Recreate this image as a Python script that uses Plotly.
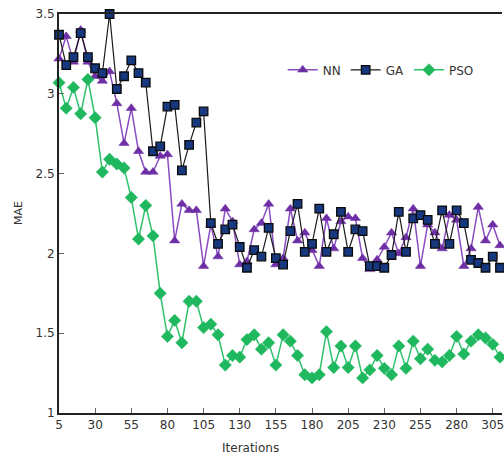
import plotly.graph_objects as go

iterations = list(range(5, 315, 5))

nn = [3.22, 3.36, 3.20, 3.40, 3.20, 3.11, 3.08, 3.14, 2.94, 2.69,
      2.91, 2.64, 2.51, 2.51, 2.61, 2.62, 2.08, 2.31, 2.27, 2.27,
      1.92, 2.18, 1.98, 2.28, 2.20, 1.93, 1.95, 2.15, 2.19, 2.31,
      1.93, 1.97, 2.28, 2.08, 2.13, 2.02, 1.92, 2.22, 2.03, 2.20,
      2.23, 2.22, 1.97, 1.90, 1.96, 2.04, 2.13, 2.00, 2.10, 2.28,
      1.92, 2.18, 2.13, 2.03, 2.24, 2.21, 1.92, 2.03, 2.29, 2.08,
      2.18, 2.05]

ga = [3.37, 3.18, 3.23, 3.38, 3.23, 3.16, 3.13, 3.50, 3.03, 3.11,
      3.21, 3.13, 3.07, 2.64, 2.67, 2.92, 2.93, 2.52, 2.68, 2.82,
      2.89, 2.19, 2.06, 2.15, 2.18, 2.04, 1.91, 2.02, 1.98, 2.16,
      1.97, 1.93, 2.14, 2.31, 2.01, 2.06, 2.28, 2.01, 2.12, 2.26,
      2.01, 2.15, 2.14, 1.92, 1.92, 1.91, 1.99, 2.26, 2.01, 2.22,
      2.24, 2.21, 2.06, 2.27, 2.06, 2.27, 2.19, 1.96, 1.94, 1.91,
      1.98, 1.91]

pso = [3.07, 2.91, 3.04, 2.875, 3.09, 2.85, 2.51, 2.59, 2.56, 2.535,
       2.35, 2.09, 2.30, 2.11, 1.75, 1.48, 1.58, 1.44, 1.70, 1.70,
       1.535, 1.556, 1.49, 1.30, 1.36, 1.35, 1.46, 1.49, 1.40, 1.44,
       1.30, 1.49, 1.45, 1.36, 1.24, 1.22, 1.24, 1.51, 1.285, 1.42,
       1.285, 1.42, 1.22, 1.27, 1.36, 1.28, 1.24, 1.42, 1.28, 1.45,
       1.34, 1.40, 1.33, 1.32, 1.36, 1.48, 1.37, 1.45, 1.49, 1.47,
       1.43, 1.35]

x_ticks = [5, 30, 55, 80, 105, 130, 155, 180, 205, 230, 255, 280, 305]
y_ticks = [1, 1.5, 2, 2.5, 3, 3.5]
y_labels = ["1", "1.5", "2", "2.5", "3", "3.5"]

FONT = "DejaVu Sans"

fig = go.Figure()
fig.add_trace(go.Scatter(
    x=iterations, y=nn, name="NN", mode="lines+markers",
    line=dict(color="#8a4cc0", width=1.5),
    marker=dict(symbol="triangle-up", size=9, color="#6e2fa6",
                line=dict(color="#6e2fa6", width=0.5)),
    cliponaxis=False))
fig.add_trace(go.Scatter(
    x=iterations, y=ga, name="GA", mode="lines+markers",
    line=dict(color="#1a1a1a", width=1.2),
    marker=dict(symbol="square", size=8.5, color="#17387e",
                line=dict(color="#0a0a0a", width=1.3)),
    cliponaxis=False))
fig.add_trace(go.Scatter(
    x=iterations, y=pso, name="PSO", mode="lines+markers",
    line=dict(color="#2fc26e", width=1.5),
    marker=dict(symbol="diamond", size=9.5, color="#1fb85f",
                line=dict(color="#1fb85f", width=0.5)),
    cliponaxis=False))

fig.update_layout(
    width=504, height=460,
    margin=dict(l=59, r=0, t=14, b=47),
    paper_bgcolor="white", plot_bgcolor="white",
    font=dict(family=FONT, size=12, color="#333333"),
    showlegend=True,
    legend=dict(orientation="h", x=0.505, y=0.86, xanchor="left", yanchor="middle",
                bgcolor="rgba(0,0,0,0)", font=dict(size=12, color="#333333"),
                itemwidth=30, tracegroupgap=0),
    xaxis=dict(range=[5, 311.4], tickmode="array", tickvals=x_ticks,
               ticktext=[str(t) for t in x_ticks],
               showgrid=False, zeroline=False,
               showline=True, linecolor="#222222", linewidth=1.8, mirror=True,
               ticks="inside", ticklen=5, tickcolor="#666666", tickwidth=1,
               ticklabeloverflow="allow",
               tickfont=dict(size=12, color="#333333")),
    yaxis=dict(range=[1, 3.5], tickmode="array", tickvals=y_ticks, ticktext=y_labels,
               showgrid=False, zeroline=False,
               showline=True, linecolor="#222222", linewidth=1.8,
               ticks="inside", ticklen=5, tickcolor="#666666", tickwidth=1,
               tickfont=dict(size=12, color="#333333")),
    annotations=[
        dict(text="MAE", xref="paper", yref="paper", x=-0.093, y=0.501,
             xanchor="center", yanchor="middle", textangle=-90, showarrow=False,
             font=dict(size=11, color="#333333")),
        dict(text="Iterations", xref="paper", yref="paper", x=0.433, y=-0.088,
             xanchor="center", yanchor="middle", showarrow=False,
             font=dict(size=12, color="#333333")),
    ],
)

fig.write_html("out.html")
